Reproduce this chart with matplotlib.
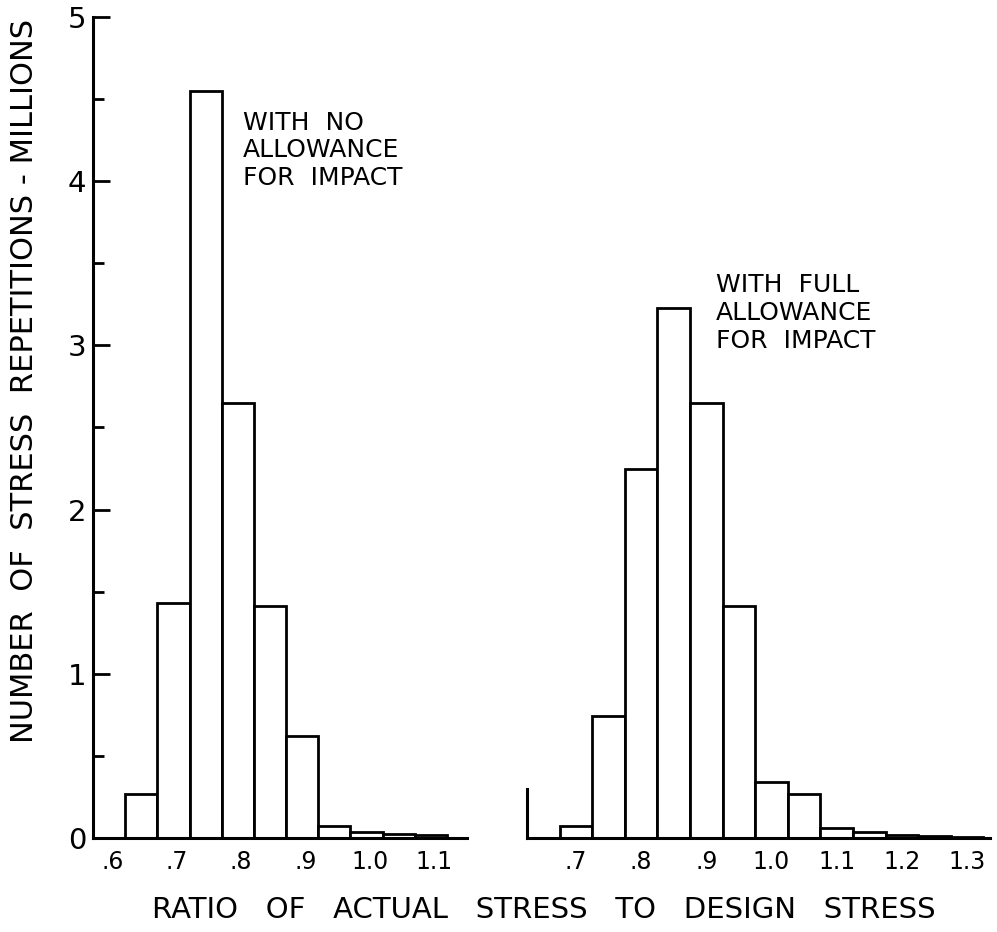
import numpy as np
import matplotlib
matplotlib.use("Agg")
import matplotlib.pyplot as plt
from matplotlib.ticker import MultipleLocator

# Histogram data (millions of stress repetitions)
no_impact_left = [0.62, 0.67, 0.72, 0.77, 0.82, 0.87, 0.92, 0.97, 1.02, 1.07]
no_impact_vals = [0.27, 1.43, 4.55, 2.65, 1.41, 0.62, 0.07, 0.035, 0.025, 0.015]

full_impact_left = [0.675, 0.725, 0.775, 0.825, 0.875, 0.925, 0.975,
                    1.025, 1.075, 1.125, 1.175, 1.225, 1.275]
full_impact_vals = [0.07, 0.74, 2.25, 3.23, 2.65, 1.41, 0.34, 0.27,
                    0.06, 0.035, 0.02, 0.012, 0.008]

left_ticks = [0.6, 0.7, 0.8, 0.9, 1.0, 1.1]
left_ticklabels = [".6", ".7", ".8", ".9", "1.0", "1.1"]
right_ticks = [0.7, 0.8, 0.9, 1.0, 1.1, 1.2, 1.3]
right_ticklabels = [".7", ".8", ".9", "1.0", "1.1", "1.2", "1.3"]

BIN_W = 0.05
LW = 2.0

plt.rcParams['font.family'] = ['DejaVu Sans']

fig = plt.figure(figsize=(9.97, 9.32), dpi=100)
ax1 = fig.add_axes([0.0933, 0.1009, 0.3751, 0.8809])
ax2 = fig.add_axes([0.5286, 0.1009, 0.4644, 0.8809])

for ax, lefts, vals in [(ax1, no_impact_left, no_impact_vals),
                        (ax2, full_impact_left, full_impact_vals)]:
    ax.bar(lefts, vals, width=BIN_W, align='edge', color='white',
           edgecolor='black', linewidth=LW)
    ax.set_ylim(0, 5)
    ax.spines['top'].set_visible(False)
    ax.spines['right'].set_visible(False)
    ax.spines['bottom'].set_linewidth(2.2)
    ax.spines['left'].set_linewidth(2.2)
    ax.tick_params(axis='x', length=0, pad=9, labelsize=17)

ax1.set_xlim(0.57, 1.151)
ax1.set_xticks(left_ticks)
ax1.set_xticklabels(left_ticklabels)
ax1.spines['left'].set_bounds(0, 5)
ax1.yaxis.set_major_locator(MultipleLocator(1))
ax1.yaxis.set_minor_locator(MultipleLocator(0.5))
ax1.tick_params(axis='y', which='major', direction='in', length=12,
                width=2.0, pad=5, labelsize=21)
ax1.tick_params(axis='y', which='minor', direction='in', length=8, width=2.0)

ax2.set_xlim(0.625, 1.335)
ax2.set_xticks(right_ticks)
ax2.set_xticklabels(right_ticklabels)
ax2.set_yticks([])
ax2.spines['left'].set_bounds(0, 0.3)

ax1.text(0.803, 4.43, "WITH  NO\nALLOWANCE\nFOR  IMPACT", fontsize=18,
         va='top', ha='left', linespacing=1.2)
ax2.text(0.915, 3.44, "WITH  FULL\nALLOWANCE\nFOR  IMPACT", fontsize=18,
         va='top', ha='left', linespacing=1.2)

fig.text(0.545, 0.0236, "RATIO   OF   ACTUAL   STRESS   TO   DESIGN   STRESS",
         fontsize=21, ha='center', va='center')
fig.text(0.025, 0.591, "NUMBER  OF  STRESS  REPETITIONS - MILLIONS",
         fontsize=22, ha='center', va='center', rotation=90)

fig.savefig("out.png", dpi=100, facecolor='white')
